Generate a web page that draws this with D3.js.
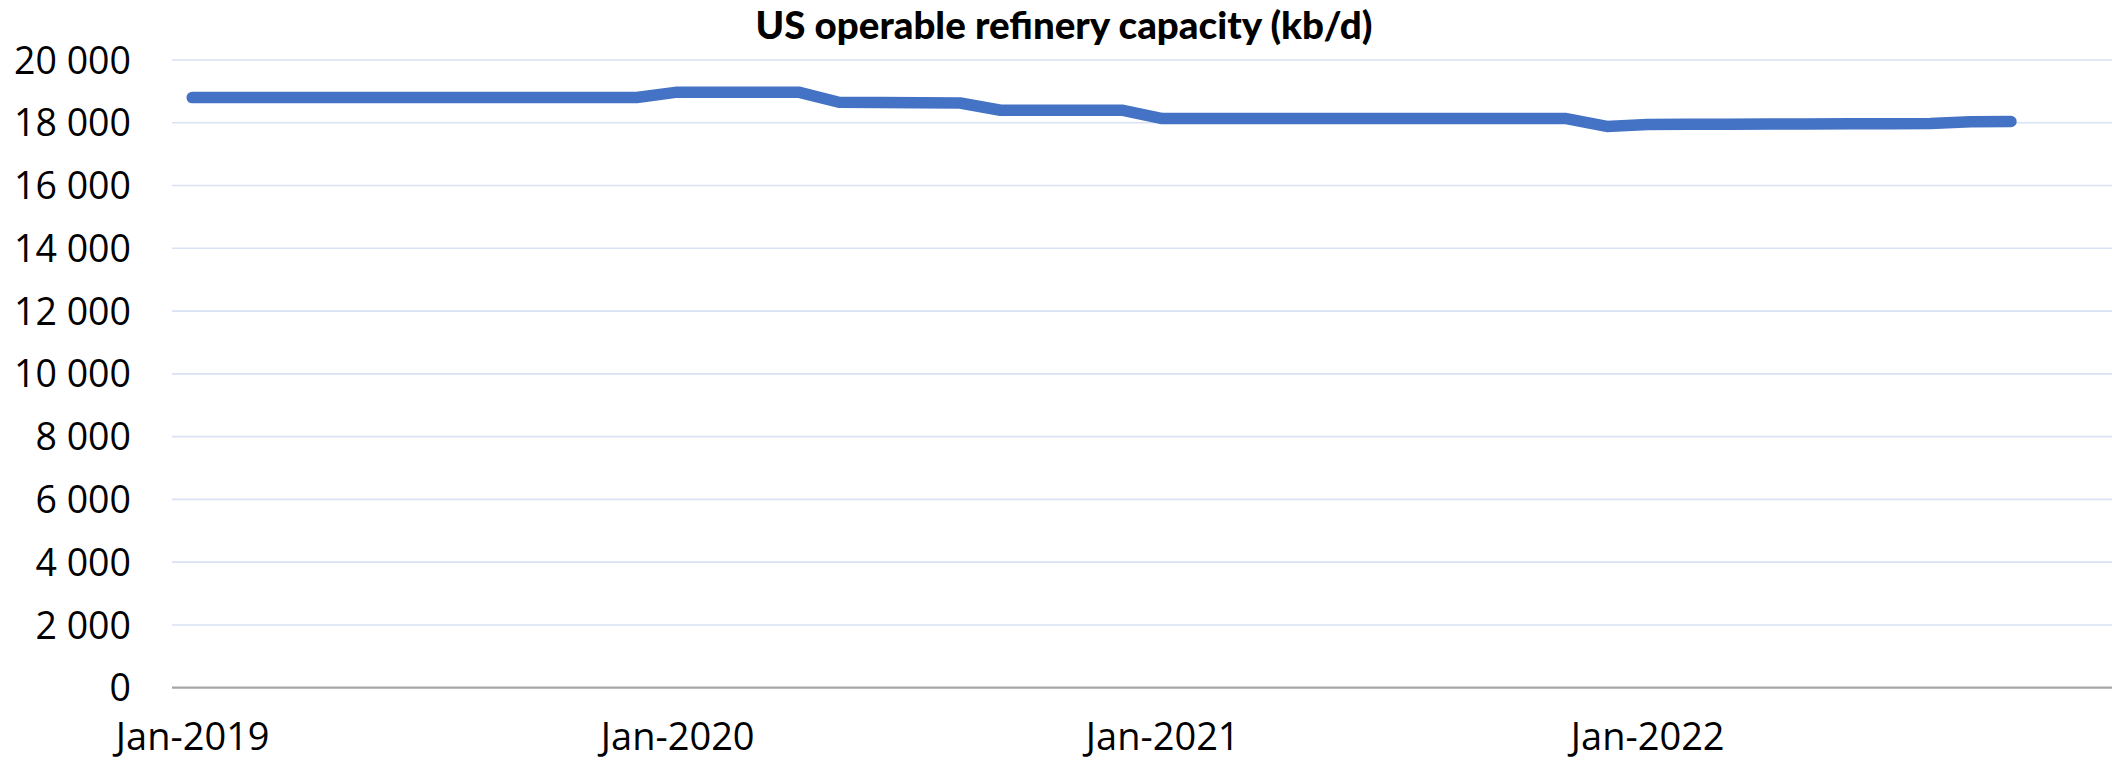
<!DOCTYPE html>
<html>
<head>
<meta charset="utf-8">
<script src="https://cdn.jsdelivr.net/npm/d3@7"></script>
<style>
  html, body { margin: 0; padding: 0; background: #fff; }
  svg { display: block; }
</style>
</head>
<body>
<svg id="chart" width="2112" height="762"></svg>
<script>
// ---- data ----
const title = "US operable refinery capacity (kb/d)";
const monthNames = ["Jan","Feb","Mar","Apr","May","Jun","Jul","Aug","Sep","Oct","Nov","Dec"];
const years = [2019, 2020, 2021, 2022];
// axis categories: Jan-2019 .. Dec-2022
const categories = years.flatMap(yr => monthNames.map(m => m + "-" + yr));
// values Jan-2019 .. Oct-2022 (kb/d)
const values = [
  18803, 18803, 18803, 18803, 18803, 18803, 18803, 18803, 18803, 18803, 18803, 18803,
  18976, 18976, 18976, 18976, 18655, 18648, 18640, 18630, 18400, 18400, 18400, 18400,
  18135, 18135, 18135, 18135, 18135, 18135, 18135, 18135, 18135, 18135, 18135, 17882,
  17945, 17950, 17955, 17958, 17962, 17966, 17970, 17975, 18035, 18040
];
const yTicks = [0, 2000, 4000, 6000, 8000, 10000, 12000, 14000, 16000, 18000, 20000];
const xTickLabels = ["Jan-2019", "Jan-2020", "Jan-2021", "Jan-2022"];

// ---- layout ----
const svg = d3.select("#chart");
const plotLeft = 172, plotRight = 2112, plotTop = 60, plotBottom = 687.7;

const x = d3.scalePoint().domain(categories).range([plotLeft, plotRight]).padding(0.5);
const y = d3.scaleLinear().domain([0, 20000]).range([plotBottom, plotTop]);

const fmt = v => d3.format(",")(v).replace(/,/g, " ");

// gridlines
svg.append("g")
  .selectAll("line")
  .data(yTicks.filter(t => t > 0))
  .join("line")
  .attr("x1", plotLeft).attr("x2", plotRight)
  .attr("y1", d => y(d)).attr("y2", d => y(d))
  .attr("stroke", "#D9E2F3").attr("stroke-width", 1.6);

// y axis labels
const yAxis = d3.axisLeft(y).tickValues(yTicks).tickFormat(fmt).tickSize(0).tickPadding(0);
const gy = svg.append("g").attr("transform", `translate(131,0)`).call(yAxis);
gy.select(".domain").remove();
gy.selectAll("text")
  .attr("font-family", "'Open Sans', sans-serif")
  .attr("font-size", 37.5)
  .attr("fill", "#000")
  .attr("dy", "0.35em");

// x axis baseline
svg.append("line")
  .attr("x1", plotLeft).attr("x2", plotRight)
  .attr("y1", y(0)).attr("y2", y(0))
  .attr("stroke", "#A6A6A6").attr("stroke-width", 2.2);

// x axis labels
const xAxis = d3.axisBottom(x).tickValues(xTickLabels).tickSize(0).tickPadding(0);
const gx = svg.append("g").attr("transform", `translate(0,${y(0)})`).call(xAxis);
gx.select(".domain").remove();
gx.selectAll("text")
  .attr("font-family", "'Open Sans', sans-serif")
  .attr("font-size", 38)
  .attr("fill", "#000")
  .attr("y", 62)
  .attr("dy", 0);

// line
const line = d3.line()
  .x((d, i) => x(categories[i]))
  .y(d => y(d));

svg.append("path")
  .datum(values)
  .attr("d", line)
  .attr("fill", "none")
  .attr("stroke", "#4472C4")
  .attr("stroke-width", 11.5)
  .attr("stroke-linecap", "round")
  .attr("stroke-linejoin", "round");

// title
svg.append("text")
  .attr("x", 1064).attr("y", 39)
  .attr("text-anchor", "middle")
  .attr("font-family", "Lato, sans-serif")
  .attr("font-weight", 900)
  .attr("font-size", 38.5)
  .attr("fill", "#000")
  .text(title);
</script>
</body>
</html>
